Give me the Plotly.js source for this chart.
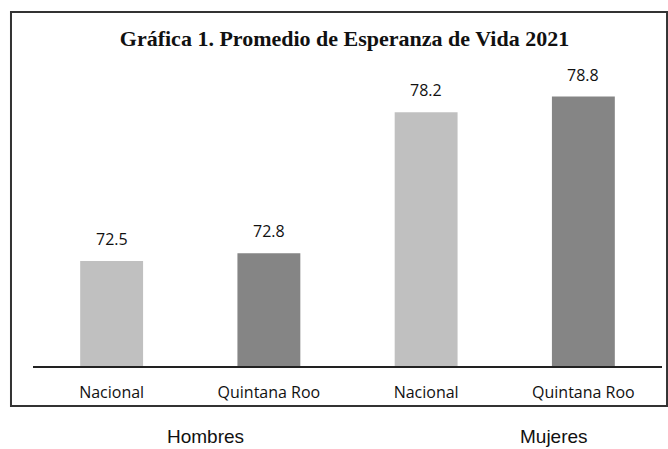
<!DOCTYPE html>
<html>
<head>
<meta charset="utf-8">
<script src="https://cdn.plot.ly/plotly-3.0.1.min.js"></script>
<style>
  html, body { margin: 0; padding: 0; background: #fff; }
  #grafica { width: 668px; height: 449px; }
</style>
</head>
<body>
<div id="grafica"></div>
<script>
// datos
var grupos = ['Hombres', 'Hombres', 'Mujeres', 'Mujeres'];
var regiones = ['Nacional', 'Quintana Roo', 'Nacional', 'Quintana Roo'];
var esperanza = [72.5, 72.8, 78.2, 78.8];
var etiquetasGrupo = ['Hombres', 'Mujeres'];

var colorRegion = {'Nacional': '#c0c0c0', 'Quintana Roo': '#858585'};

var claves = grupos.map(function (g, i) { return g + ' ' + regiones[i]; });

var trace1 = {
  x: claves,
  y: esperanza,
  type: 'bar',
  marker: {color: regiones.map(function (r) { return colorRegion[r]; })},
  hoverinfo: 'skip'
};

// etiquetas de valor sobre cada barra
var notas = claves.map(function (k, i) {
  return {
    x: k, y: esperanza[i], xref: 'x', yref: 'y',
    text: esperanza[i].toFixed(1),
    showarrow: false, yanchor: 'bottom', yshift: 9,
    font: {family: 'Open Sans, sans-serif', size: 16, color: '#111'}
  };
});

// Hombres / Mujeres debajo del marco
var posGrupo = [0.275, 0.828];
etiquetasGrupo.forEach(function (g, i) {
  notas.push({
    x: posGrupo[i], y: -0.229, xref: 'paper', yref: 'paper',
    text: g, showarrow: false, xanchor: 'center', yanchor: 'middle',
    font: {family: 'Liberation Sans, Arial, sans-serif', size: 19, color: '#111'}
  });
});

var layout = {
  width: 668,
  height: 449,
  margin: {l: 33, r: 6, t: 60, b: 83},
  paper_bgcolor: '#fff',
  plot_bgcolor: '#fff',
  showlegend: false,
  bargap: 0.6,
  title: {
    text: '<b>Gráfica 1. Promedio de Esperanza de Vida 2021</b>',
    font: {family: 'Liberation Serif, Times New Roman, serif', size: 22, color: '#111'},
    x: 0.5157, xref: 'container', xanchor: 'center',
    y: 0.915, yref: 'container', yanchor: 'middle'
  },
  xaxis: {
    tickvals: claves,
    ticktext: regiones,
    showline: true, linecolor: '#222', linewidth: 1.5,
    ticks: '', ticklabelstandoff: 11,
    tickfont: {family: 'Open Sans, sans-serif', size: 16, color: '#111'},
    showgrid: false, zeroline: false, fixedrange: true
  },
  yaxis: {
    range: [68.48, 80.2],
    visible: false, showgrid: false, zeroline: false, fixedrange: true
  },
  annotations: notas,
  shapes: [{
    type: 'rect', xref: 'paper', yref: 'paper',
    x0: -0.035, x1: 1.008, y0: -0.1307, y1: 1.157,
    line: {color: '#333', width: 2}, fillcolor: 'rgba(0,0,0,0)', layer: 'below'
  }]
};

Plotly.newPlot('grafica', [trace1], layout, {displayModeBar: false, staticPlot: true});
</script>
</body>
</html>
